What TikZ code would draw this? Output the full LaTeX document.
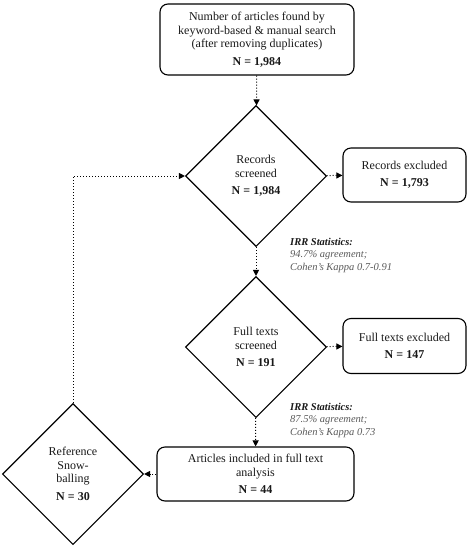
\documentclass[tikz,border=0pt]{standalone}
\usepackage{fontspec}
\setmainfont{Liberation Serif}
\usetikzlibrary{shapes.geometric,arrows.meta}
\begin{document}
\begin{tikzpicture}[x=1pt,y=-1pt,
  every node/.style={font=\fontsize{12}{13.5}\selectfont, text=black!90},
  rbox/.style={draw, line width=1.1pt, rounded corners=8pt, align=center, inner sep=0pt},
  dia/.style={draw, diamond, line width=1.1pt, aspect=1, minimum width=141pt, minimum height=141pt, align=center, inner sep=0pt},
  flow/.style={line width=1pt, dotted, -{Triangle[length=6pt,width=6pt]}},
  irr/.style={align=left, anchor=north west, inner sep=0pt, font=\fontsize{10.5}{12.3}\selectfont\itshape, text=black!65}
]
\useasboundingbox (0,0) rectangle (473,550);
\node[rbox, minimum width=194pt, minimum height=71pt] (top) at (257,39.5)
  {Number of articles found by\\keyword-based \& manual search\\(after removing duplicates)\\[4pt]\textbf{N = 1,984}};
\node[dia] (rec) at (256,176) {Records\\screened\\[4pt]\textbf{N = 1,984}};
\node[rbox, minimum width=123pt, minimum height=54pt] (recx) at (404.5,175)
  {Records excluded\\[4pt]\textbf{N = 1,793}};
\node[dia] (full) at (256,347) {Full texts\\screened\\[4pt]\textbf{N = 191}};
\node[rbox, minimum width=123pt, minimum height=55pt] (fullx) at (404.5,346)
  {Full texts excluded\\[4pt]\textbf{N = 147}};
\node[rbox, minimum width=197pt, minimum height=54pt] (art) at (255.5,474)
  {Articles included in full text\\analysis\\[4pt]\textbf{N = 44}};
\node[dia] (snow) at (73,474) {Reference\\Snow-\\balling\\[4pt]\textbf{N = 30}};
\node[irr] (irr1) at (290,238) {\textcolor{black!90}{\textbf{IRR Statistics:}}\\94.7\% agreement;\\Cohen's Kappa 0.7-0.91};
\node[irr] (irr2) at (290,403) {\textcolor{black!90}{\textbf{IRR Statistics:}}\\87.5\% agreement;\\Cohen's Kappa 0.73};
\coordinate (corner) at (snow.north |- rec.west);
\draw[flow] (top) -- (rec);
\draw[flow] (rec) -- (recx);
\draw[flow] (rec) -- (full);
\draw[flow] (full) -- (fullx);
\draw[flow] (full) -- (art);
\draw[flow] (art) -- (snow);
\draw[flow] (snow.north) -- (corner) -- (rec.west);
\end{tikzpicture}
\end{document}
